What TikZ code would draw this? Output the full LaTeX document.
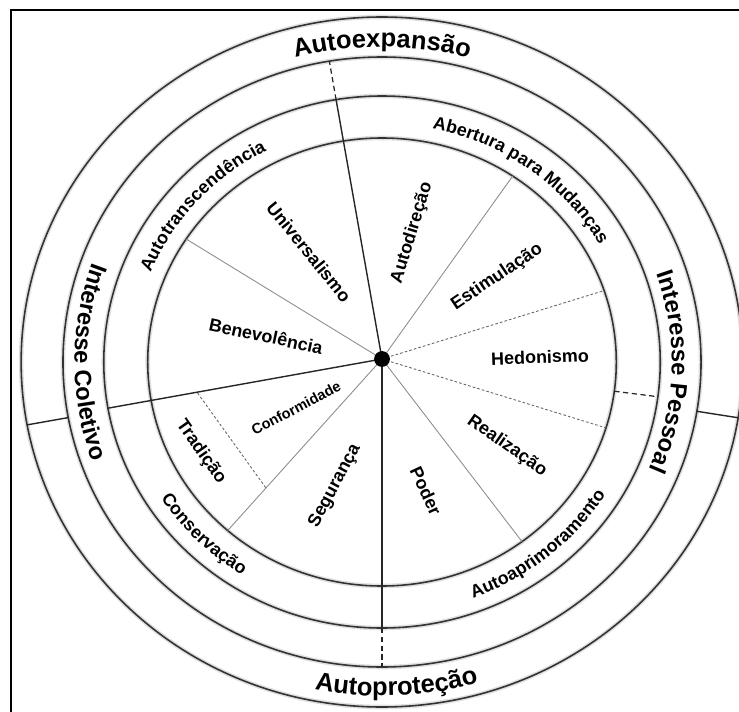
\documentclass[tikz,border=0pt]{standalone}
\usepackage{fontspec}
\setmainfont{Liberation Sans}
\usepackage{tikz}
\usetikzlibrary{decorations.text}

\newcommand{\outerfont}{\fontsize{14.5}{17}\selectfont\bfseries}
\newcommand{\middlefont}{\fontsize{13.5}{16}\selectfont\bfseries}
\newcommand{\innerfont}{\fontsize{10.2}{12}\selectfont\bfseries}
\newcommand{\tinyfont}{\fontsize{8.3}{10}\selectfont\bfseries}

\tikzset{
  rim/.style={draw=black!80, line width=0.9pt, preaction={draw=black!12, line width=2.6pt}},
  spoke/.style={draw=black!85, line width=0.8pt},
  thinspoke/.style={draw=black!45, line width=0.5pt},
  dotspoke/.style={draw=black!60, line width=0.5pt, dash pattern=on 1.5pt off 1.2pt},
  split/.style={draw=black!85, line width=0.7pt, dash pattern=on 3pt off 2pt},
  value/.style={font=\innerfont, inner sep=1pt},
  hubdot/.style={circle, fill=black, inner sep=0pt, minimum size=9pt},
  arclabel/.style={decorate, decoration={text along path, text align={align=center}, text={#1}}},
}

\begin{document}
\begin{tikzpicture}[x=0.02cm, y=0.02cm]
  \useasboundingbox (0,0) rectangle (739,711);
  \draw[line width=1.1pt] (745,701) -- (11,701) -- (11,-5);

  \begin{scope}[shift={(382,349)}, xscale=1.046]
    \coordinate (o) at (0,3);
    \draw[rim] (0,0) circle[radius=224];
    \draw[rim] (0,0) circle[radius=266];
    \draw[rim] (0,0) circle[radius=305];
    \draw[rim] (0,0) circle[radius=345];

    % main axes
    \draw[spoke] (o) -- (99.5:266);
    \draw[split] (99.5:266) -- (99.5:305);
    \draw[spoke] (o) -- (190:266);
    \draw[spoke] (190.5:305) -- (190.5:345);
    \draw[spoke] (o) -- (270:266);
    \draw[split] (270:266) -- (270:305);
    \draw[split] (352.5:224) -- (352.5:266);
    \draw[spoke] (350.7:305) -- (350.7:345);

    % value borders
    \draw[thinspoke] (o) -- (146.7:224);
    \draw[thinspoke] (o) -- (228.8:224);
    \draw[thinspoke] (o) -- (306.7:224);
    \draw[thinspoke] (o) -- (56.1:224);
    \draw[dotspoke] (o) -- (18.6:224);
    \draw[dotspoke] (o) -- (342.9:224);
    \draw[dotspoke] (190:179) -- (228.8:168);

    \node[hubdot] (hub) at (o) {};

    % ring labels
    \path[arclabel={|\outerfont|Autoexpansão}] (130:315) arc[start angle=130, end angle=50, radius=315];
    \path[arclabel={|\outerfont|Autoproteção}] (232.5:334) arc[start angle=232.5, end angle=312.5, radius=334];
    \path[arclabel={|\middlefont|Interesse Coletivo}] (140:294) arc[start angle=140, end angle=220, radius=294];
    \path[arclabel={|\middlefont|Interesse Pessoal}] (40:277) arc[start angle=40, end angle=-44, radius=277];
    \path[arclabel={|\innerfont|Autotranscendência}] (170:238.5) arc[start angle=170, end angle=106, radius=238.5];
    \path[arclabel={|\innerfont|Abertura para Mudanças}] (95.5:238.5) arc[start angle=95.5, end angle=11.5, radius=238.5];
    \path[arclabel={|\innerfont|Conservação}] (190:251.5) arc[start angle=190, end angle=260, radius=251.5];
    \path[arclabel={|\innerfont|Autoaprimoramento}] (274.5:251.5) arc[start angle=274.5, end angle=344.5, radius=251.5];
  \end{scope}

  \node[value, rotate=-51] (univ) at (309,459) {Universalismo};
  \node[value, rotate=73] (autodir) at (412,478) {Autodireção};
  \node[value, rotate=34] (estim) at (497,434) {Estimulação};
  \node[value, rotate=2] (hedon) at (540,354) {Hedonismo};
  \node[value, rotate=-35] (realiz) at (507,265) {Realização};
  \node[value, rotate=-65] (poder) at (426,220) {Poder};
  \node[value, rotate=62] (segur) at (335,225) {Segurança};
  \node[value, rotate=28, font=\tinyfont] (conform) at (296,303) {Conformidade};
  \node[value, rotate=-55] (tradic) at (201,259) {Tradição};
  \node[value, rotate=-12] (benev) at (266,375) {Benevolência};
\end{tikzpicture}
\end{document}
